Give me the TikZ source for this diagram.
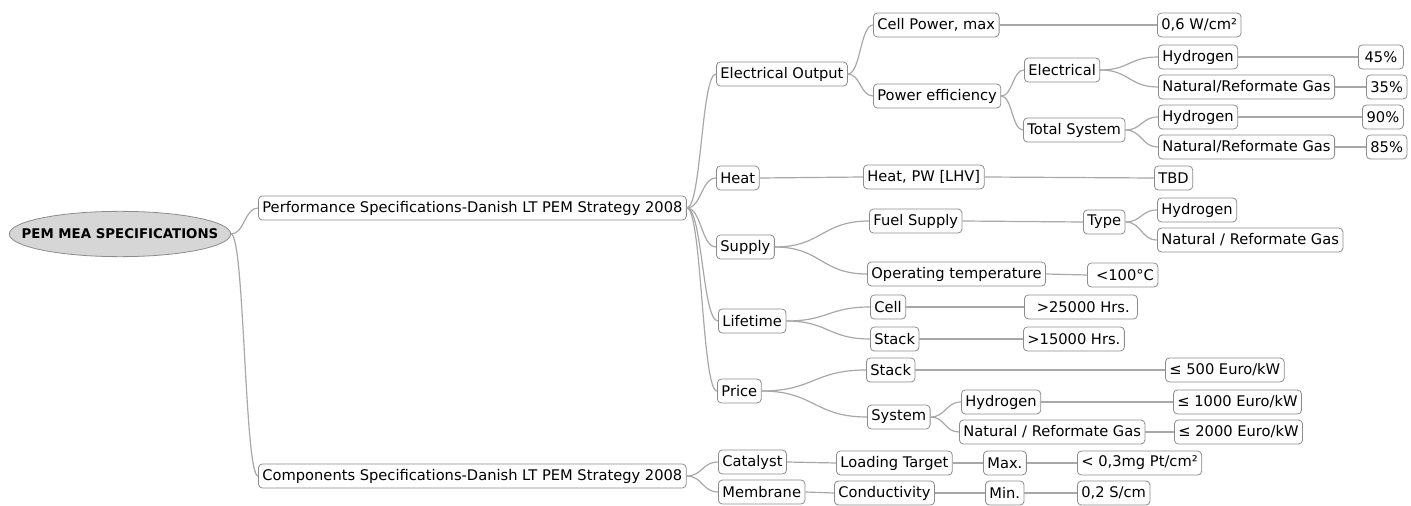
\documentclass[tikz,border=0pt]{standalone}
\usepackage{fontspec}
\setmainfont{DejaVu Sans}
\usepackage{xcolor}
\usetikzlibrary{shapes.geometric,calc}
\definecolor{boxgray}{HTML}{8C8C8C}
\definecolor{linkgray}{HTML}{A8A8A8}
\definecolor{rootgray}{HTML}{D6D6D6}

\begin{document}
\begin{tikzpicture}[x=0.75pt,y=-0.75pt,
    box/.style={draw=boxgray, line width=0.6pt, rounded corners=3pt, fill=white,
        font=\fontsize{11}{13}\selectfont, inner xsep=3pt, inner ysep=0pt,
        minimum height=18pt, anchor=west},
    rootbox/.style={ellipse, draw=boxgray, line width=0.6pt, fill=rootgray,
        inner sep=0pt, minimum width=166pt, minimum height=34pt},
    rootlabel/.style={font=\fontsize{10}{12}\selectfont\bfseries},
    link/.style={draw=linkgray, line width=0.9pt,
        to path={let \p1=(\tikztostart), \p2=(\tikztotarget), \n1={(\x1+\x2)/2} in
            .. controls (\n1,\y1) and (\n1,\y2) .. (\tikztotarget)}}]
    \useasboundingbox (0,0) rectangle (1411,506);
    % root
    \node[rootbox, label={[rootlabel]center:PEM MEA SPECIFICATIONS}] (root) at (120,234) {};
    \node[box] (perf) at (258,208) {Performance Specifications-Danish LT PEM Strategy 2008};
    \node[box] (comp) at (258,476) {Components Specifications-Danish LT PEM Strategy 2008};
    % performance branches
    \node[box] (elec) at (716,74) {Electrical Output};
    \node[box] (heat) at (716,178) {Heat};
    \node[box] (supply) at (716,247) {Supply};
    \node[box] (life) at (718,321) {Lifetime};
    \node[box] (price) at (717,391) {Price};
    \node[box] (cellpow) at (873,25) {Cell Power, max};
    \node[box] (poweff) at (873,96) {Power efficiency};
    \node[box] (heatpw) at (863,177) {Heat, PW [LHV]};
    \node[box] (fuel) at (869,221) {Fuel Supply};
    \node[box] (optemp) at (867,274) {Operating temperature};
    \node[box] (lcell) at (870,307) {Cell};
    \node[box] (lstack) at (870,339) {Stack};
    \node[box] (pstack) at (866,370) {Stack};
    \node[box] (psys) at (867,417) {System};
    \node[box] (electr) at (1024,70) {Electrical};
    \node[box] (totsys) at (1023,130) {Total System};
    \node[box] (type) at (1083,222) {Type};
    \node[box, minimum width=52.5pt] (tempv) at (1087,275) {\ <100°C};
    \node[box, minimum width=84.75pt] (lcellv) at (1024,307) {\ >25000 Hrs.};
    \node[box] (lstackv) at (1023,339) {>15000 Hrs.};
    \node[box] (pstackv) at (1165,370) {≤ 500 Euro/kW};
    \node[box] (sh2) at (961,402) {Hydrogen};
    \node[box] (sngas) at (959,432) {Natural / Reformate Gas};
    \node[box] (cellpowv) at (1157,25) {0,6 W/cm²};
    \node[box] (eh2) at (1158,57) {Hydrogen};
    \node[box] (engas) at (1158,87) {Natural/Reformate Gas};
    \node[box] (th2) at (1158,117) {Hydrogen};
    \node[box] (tngas) at (1158,147) {Natural/Reformate Gas};
    \node[box] (tbd) at (1154,178) {TBD};
    \node[box] (typeh2) at (1157,210) {Hydrogen};
    \node[box] (typengas) at (1157,240) {Natural / Reformate Gas};
    \node[box] (sh2v) at (1173,402) {≤ 1000 Euro/kW};
    \node[box] (sngasv) at (1174,432) {≤ 2000 Euro/kW};
    \node[box, minimum width=33.75pt] (eh2v) at (1358,57) {45\%};
    \node[box, minimum width=27.75pt] (engasv) at (1366,87) {35\%};
    \node[box, minimum width=30.75pt] (th2v) at (1362,117) {90\%};
    \node[box, minimum width=27.75pt] (tngasv) at (1366,147) {85\%};
    % component branches
    \node[box] (catal) at (718,462) {Catalyst};
    \node[box] (membr) at (718,492) {Membrane};
    \node[box] (load) at (836,463) {Loading Target};
    \node[box] (cond) at (834,493) {Conductivity};
    \node[box] (maxn) at (983,463) {Max.};
    \node[box] (minn) at (985,493) {Min.};
    \node[box] (maxv) at (1077,463) {< 0,3mg Pt/cm²};
    \node[box] (minv) at (1077,493) {0,2 S/cm};
    % connectors
    \foreach \a/\b in {root/perf, root/comp, perf/elec, perf/heat, perf/supply,
            perf/life, perf/price, comp/catal, comp/membr, elec/cellpow, elec/poweff,
            cellpow/cellpowv, poweff/electr, poweff/totsys, electr/eh2, electr/engas,
            eh2/eh2v, engas/engasv, totsys/th2, totsys/tngas, th2/th2v, tngas/tngasv,
            heat/heatpw, heatpw/tbd, supply/fuel, supply/optemp, fuel/type,
            type/typeh2, type/typengas, optemp/tempv, life/lcell, life/lstack,
            lcell/lcellv, lstack/lstackv, price/pstack, price/psys, pstack/pstackv,
            psys/sh2, psys/sngas, sh2/sh2v, sngas/sngasv, catal/load, load/maxn,
            maxn/maxv, membr/cond, cond/minn, minn/minv}
        \draw[link] (\a.east) to (\b.west);
\end{tikzpicture}
\end{document}
